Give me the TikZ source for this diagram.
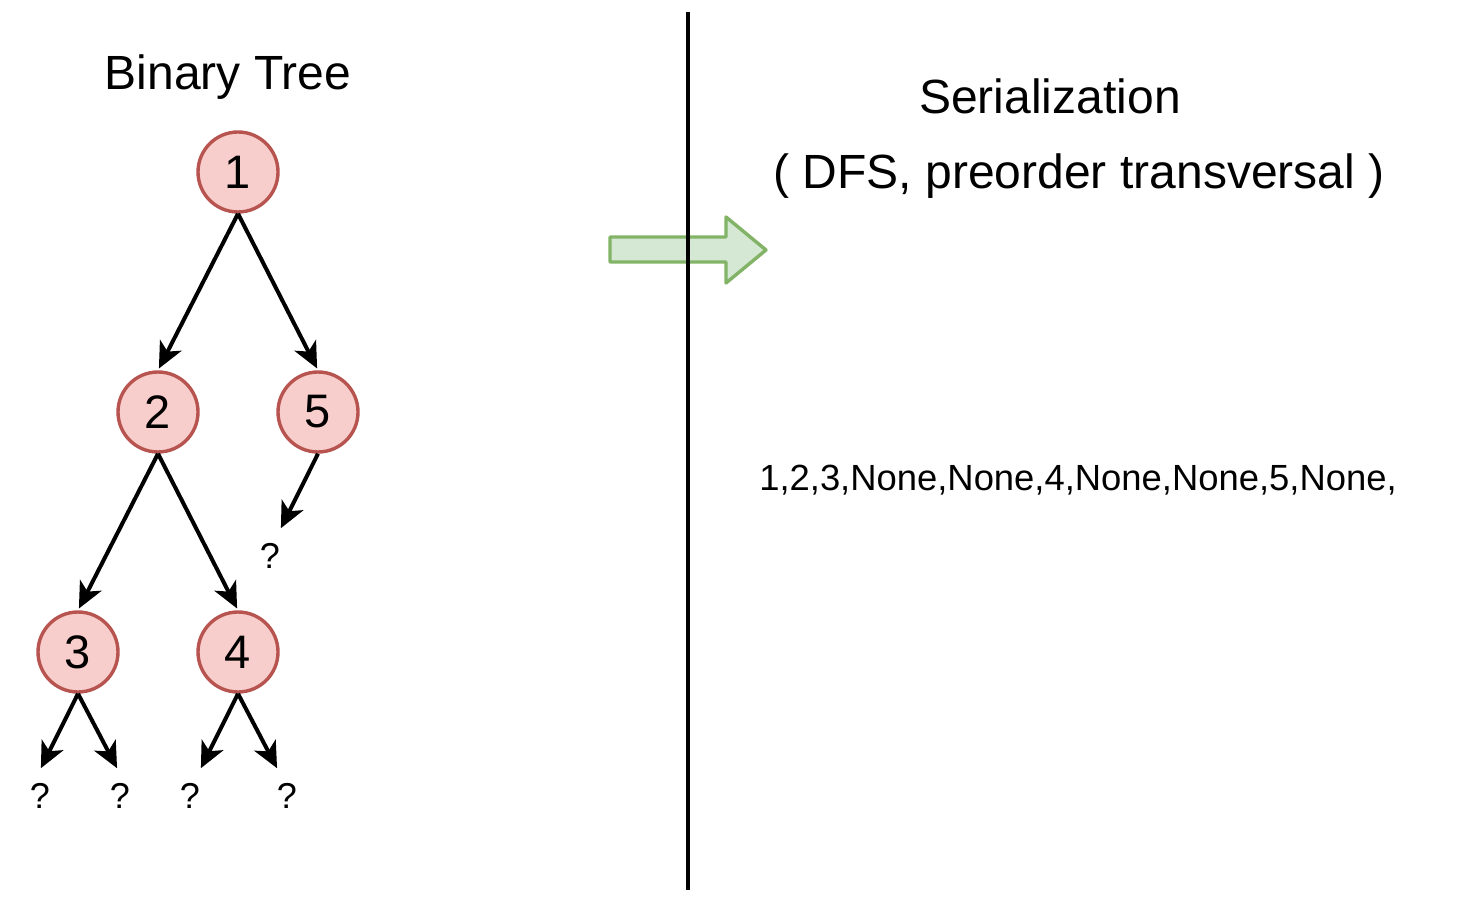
\documentclass[tikz,border=0pt]{standalone}
\usepackage{fontspec}
\setmainfont{Liberation Sans}
\usetikzlibrary{arrows.meta}
\definecolor{nodefill}{HTML}{F8CECC}
\definecolor{nodeline}{HTML}{B85450}
\definecolor{arrowfill}{HTML}{D5E8D4}
\definecolor{arrowline}{HTML}{82B366}
\tikzset{
  treenode/.style={circle,draw=nodeline,fill=nodefill,line width=1.7pt,minimum size=40pt,inner sep=0pt,font=\fontsize{23.5}{28}\selectfont},
  nullnode/.style={inner sep=0pt,font=\fontsize{18}{21}\selectfont},
  title/.style={font=\fontsize{24}{29}\selectfont},
  edge/.style={-{Stealth[length=13pt,width=12pt,inset=3.5pt]},line width=2pt,shorten >=1pt}
}
\begin{document}
\begin{tikzpicture}[x=0.5pt,y=-0.5pt]
      \useasboundingbox (0,0) rectangle (1460,908);
      \draw
        (238,172) node[treenode] (1){1}
        (158,412) node[treenode] (2){2}
        (318,412) node[treenode] (5){5}
        (78,652) node[treenode] (3){3}
        (238,652) node[treenode] (4){4};
      \draw
        (270,556) node[nullnode] (q5){?}
        (40,796) node[nullnode] (q3a){?}
        (120,796) node[nullnode] (q3b){?}
        (190,796) node[nullnode] (q4a){?}
        (287,796) node[nullnode] (q4b){?};
      \coordinate (e5) at (280,530);
      \coordinate (e3a) at (40,770);
      \coordinate (e3b) at (118,770);
      \coordinate (e4a) at (200,770);
      \coordinate (e4b) at (278,770);
      \begin{scope}[edge]
        \draw (1.south) to (2.north);
        \draw (1.south) to (5.north);
        \draw (2.south) to (3.north);
        \draw (2.south) to (4.north);
        \draw (5.south) to (e5);
        \draw (3.south) to (e3a);
        \draw (3.south) to (e3b);
        \draw (4.south) to (e4a);
        \draw (4.south) to (e4b);
      \end{scope}
      \node[title] (tree) at (228,77) {Binary Tree};
      \node[title] (ser) at (1050,96) {Serialization};
      \node[title] (dfs) at (1079,176) {( DFS, preorder transversal )};
      \node[font=\fontsize{18.2}{22}\selectfont] (out) at (1078,480) {1,2,3,None,None,4,None,None,5,None,};
      \draw[line width=1.7pt,draw=arrowline,fill=arrowfill,line join=round]
        (610,237) -- (726,237) -- (726,217) -- (766,250) -- (726,283) -- (726,262) -- (610,262) -- cycle;
      \coordinate (top) at (688,12);
      \coordinate (bottom) at (688,890);
      \draw[line width=1.6pt] (top) -- (bottom);
    \end{tikzpicture}
\end{document}
